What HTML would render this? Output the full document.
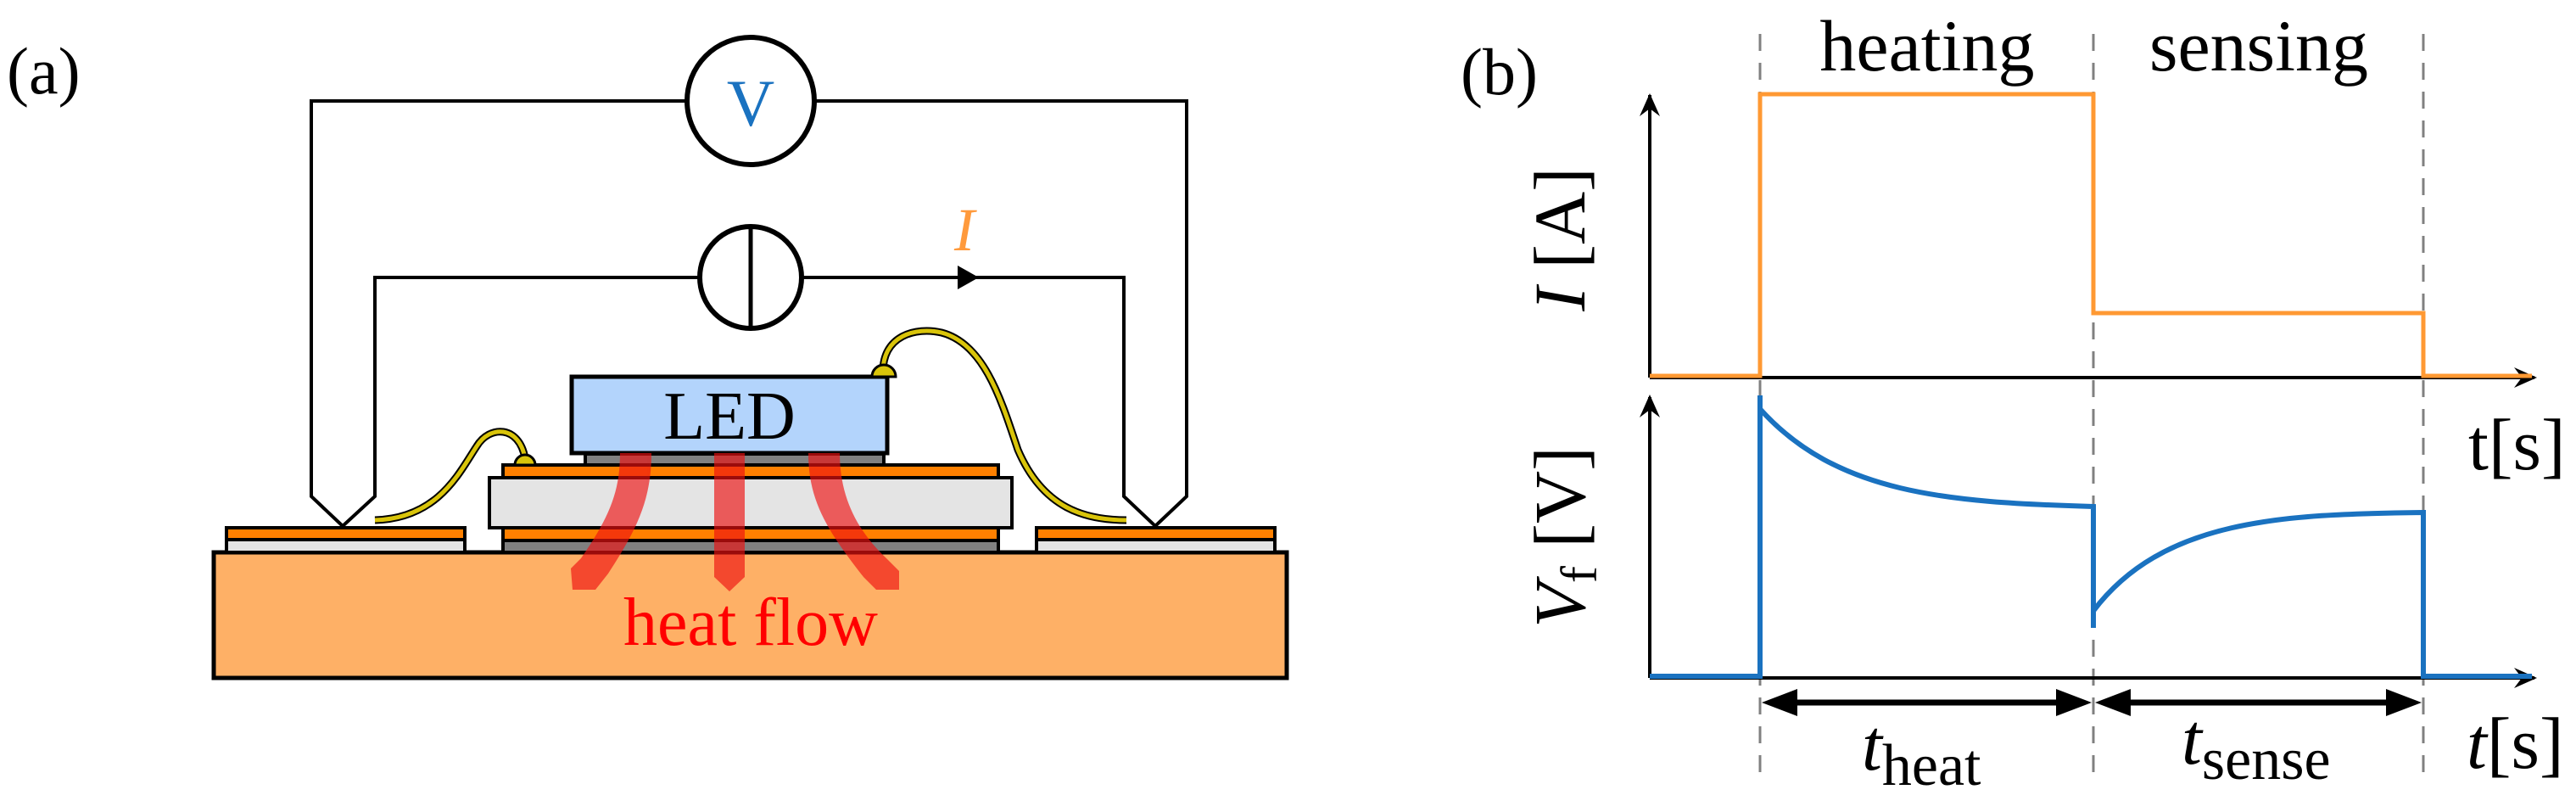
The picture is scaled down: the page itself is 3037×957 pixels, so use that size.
<!DOCTYPE html>
<html><head><meta charset="utf-8"><style>
html,body{margin:0;padding:0;background:#fff;}
svg{display:block;}
text{font-family:"Liberation Serif",serif;}
</style></head><body>
<svg width="3037" height="957" viewBox="0 0 3037 957" xmlns="http://www.w3.org/2000/svg">
<!-- (a) -->
<text x="8" y="110" font-size="78">(a)</text>
<polyline points="810,119 367,119 367,585 404,620 442,585 442,327 825,327" fill="none" stroke="#000" stroke-width="4"/>
<polyline points="960,119 1399,119 1399,585 1362,620 1325,585 1325,327 945,327" fill="none" stroke="#000" stroke-width="4"/>
<circle cx="885" cy="119" r="75" fill="#fff" stroke="#000" stroke-width="6"/>
<text x="885" y="148" font-size="78" fill="#1a72c0" text-anchor="middle">V</text>
<circle cx="885" cy="327" r="60" fill="#fff" stroke="#000" stroke-width="6"/>
<line x1="885" y1="267" x2="885" y2="387" stroke="#000" stroke-width="5"/>
<polygon points="1129,313 1154,327 1129,341" fill="#000"/>
<text x="1137" y="295" font-size="72" font-style="italic" fill="#ff9a3c" text-anchor="middle">I</text>
<!-- substrate -->
<rect x="252" y="651" width="1265" height="148" fill="#feb066" stroke="#000" stroke-width="5"/>
<rect x="267" y="636" width="281" height="15" fill="#e4e4e4" stroke="#000" stroke-width="4"/>
<rect x="267" y="622" width="281" height="14" fill="#ff8000" stroke="#000" stroke-width="4"/>
<rect x="1222" y="636" width="281" height="15" fill="#e4e4e4" stroke="#000" stroke-width="4"/>
<rect x="1222" y="622" width="281" height="14" fill="#ff8000" stroke="#000" stroke-width="4"/>
<!-- center stack -->
<rect x="593" y="637" width="584" height="14" fill="#808080" stroke="#000" stroke-width="4"/>
<rect x="593" y="622" width="584" height="15" fill="#ff8000" stroke="#000" stroke-width="4"/>
<rect x="577" y="563" width="616" height="59" fill="#e4e4e4" stroke="#000" stroke-width="4"/>
<rect x="593" y="548" width="584" height="15" fill="#ff8000" stroke="#000" stroke-width="4"/>
<rect x="690" y="535" width="352" height="13" fill="#808080" stroke="#000" stroke-width="4"/>
<rect x="674" y="444" width="372" height="90" fill="#b3d4fc" stroke="#000" stroke-width="5"/>
<text x="860" y="517" font-size="80" text-anchor="middle">LED</text>
<!-- wire bonds -->
<path d="M442,613 C517,611 542,556 562,526 C577,501 612,501 619,540" fill="none" stroke="#000" stroke-width="9"/>
<path d="M442,613 C517,611 542,556 562,526 C577,501 612,501 619,540" fill="none" stroke="#d9c40a" stroke-width="5"/>
<path d="M607,548 a12,12 0 0 1 24,0 z" fill="#d9c40a" stroke="#000" stroke-width="3"/>
<path d="M1041,440 C1040,395 1080,385 1110,392 C1160,405 1180,470 1200,530 C1230,600 1280,613 1328,613" fill="none" stroke="#000" stroke-width="9"/>
<path d="M1041,440 C1040,395 1080,385 1110,392 C1160,405 1180,470 1200,530 C1230,600 1280,613 1328,613" fill="none" stroke="#d9c40a" stroke-width="5"/>
<path d="M1028,444 a14,14 0 0 1 28,0 z" fill="#d9c40a" stroke="#000" stroke-width="3"/>
<!-- heat flow arrows -->
<g fill="#ee1111" opacity="0.65">
<path d="M731,534 L768,534 C768,590 750,625 717,676 L702,695 L675,695 L673,670 L685,658 C718,610 731,580 731,534 Z"/>
<path d="M842,534 L878,534 L878,680 L860,697 L842,680 Z"/>
<path d="M953,534 L990,534 C990,585 1010,625 1045,658 L1060,673 L1060,695 L1033,695 L1018,680 C975,625 953,590 953,534 Z"/>
</g>
<text x="885" y="760" font-size="80" fill="#ff0000" text-anchor="middle">heat flow</text>

<!-- (b) -->
<text x="1722" y="111" font-size="78">(b)</text>
<g stroke="#808080" stroke-width="3" stroke-dasharray="20,14">
<line x1="2075" y1="40" x2="2075" y2="915"/>
<line x1="2468" y1="40" x2="2468" y2="915"/>
<line x1="2857" y1="40" x2="2857" y2="915"/>
</g>
<text x="2272" y="83" font-size="86" text-anchor="middle">heating</text>
<text x="2663" y="83" font-size="86" text-anchor="middle">sensing</text>
<g stroke="#000" stroke-width="4" fill="none">
<line x1="1945" y1="445" x2="1945" y2="112"/>
<line x1="1945" y1="445" x2="2988" y2="445"/>
<line x1="1945" y1="799" x2="1945" y2="468"/>
<line x1="1945" y1="799" x2="2988" y2="799"/>
</g>
<g fill="#000">
<polygon points="1945,110 1933,137 1945,128 1957,137"/>
<polygon points="1945,465 1933,492 1945,483 1957,492"/>
<polygon points="2991,445 2964,433 2973,445 2964,457"/>
<polygon points="2991,799 2964,787 2973,799 2964,811"/>
</g>
<polyline points="1945,443 2075,443 2075,111 2468,111 2468,369 2857,369 2857,443 2985,443" fill="none" stroke="#ff9933" stroke-width="5"/>
<path d="M1945,797 L2075,797 L2075,466 M2075,482 C2165,582 2295,592 2468,597 L2468,740 M2468,720 C2550,612 2690,606 2857,604 L2857,797 L2985,797" fill="none" stroke="#1a72c0" stroke-width="6"/>
<g stroke="#000" stroke-width="7">
<line x1="2095" y1="828" x2="2448" y2="828"/>
<line x1="2488" y1="828" x2="2837" y2="828"/>
</g>
<g fill="#000">
<polygon points="2077,828 2119,812 2119,844"/>
<polygon points="2466,828 2424,812 2424,844"/>
<polygon points="2470,828 2512,812 2512,844"/>
<polygon points="2855,828 2813,812 2813,844"/>
</g>
<text x="2195" y="907" font-size="86" font-style="italic">t<tspan font-style="normal" font-size="70" dy="18">heat</tspan></text>
<text x="2572" y="900" font-size="86" font-style="italic">t<tspan font-style="normal" font-size="70" dy="18">sense</tspan></text>
<text x="2910" y="553" font-size="86">t[s]</text>
<text x="2908" y="905" font-size="86"><tspan font-style="italic">t</tspan>[s]</text>
<text transform="translate(1868,282) rotate(-90)" font-size="86" text-anchor="middle"><tspan font-style="italic">I</tspan> [A]</text>
<text transform="translate(1868,633) rotate(-90)" font-size="86" text-anchor="middle"><tspan font-style="italic">V</tspan><tspan font-size="60" dy="14">f</tspan><tspan dy="-14"> [V]</tspan></text>
</svg>
</body></html>
